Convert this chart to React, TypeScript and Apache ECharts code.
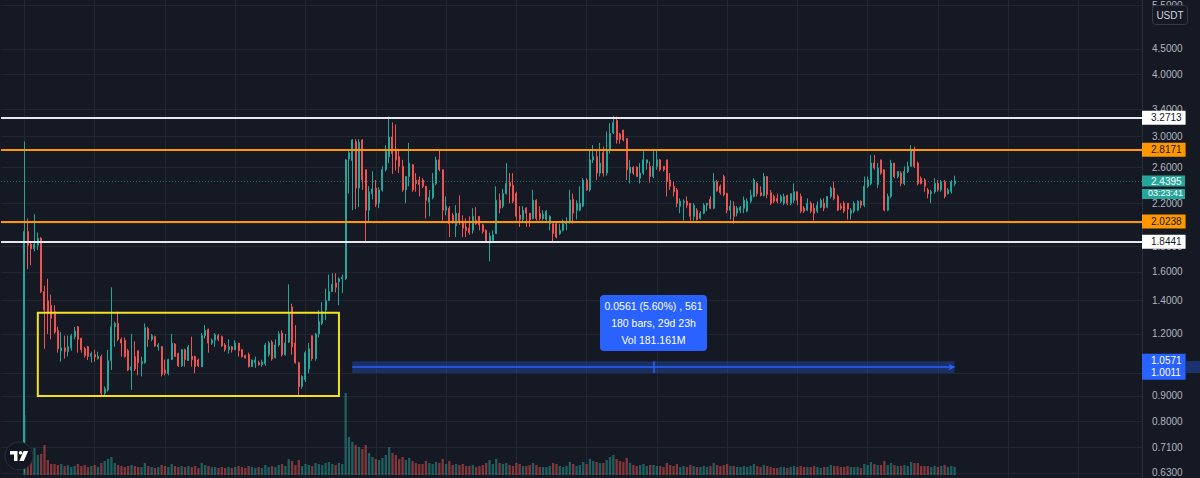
import React, { useEffect, useRef } from "react";
import * as echarts from "echarts";

// ---- data (4h candles) ----
// each entry: [open, close, low, high]
const ohlc: [number, number, number, number][] = [
  [0.640, 1.930, 0.630, 2.930], [1.930, 1.810, 1.620, 2.050], [1.820, 1.780, 1.650, 1.830], [1.780, 1.820, 1.760, 2.090],
  [1.810, 1.870, 1.770, 1.920], [1.870, 1.460, 1.450, 1.880], [1.460, 1.340, 1.120, 1.500], [1.400, 1.320, 1.200, 1.550],
  [1.370, 1.290, 1.170, 1.440], [1.330, 1.210, 1.200, 1.370], [1.220, 1.120, 1.100, 1.240], [1.110, 1.125, 1.055, 1.210],
  [1.125, 1.105, 1.070, 1.190], [1.105, 1.130, 1.080, 1.190], [1.125, 1.190, 1.110, 1.200], [1.185, 1.215, 1.170, 1.240],
  [1.240, 1.170, 1.100, 1.245], [1.175, 1.115, 1.100, 1.180], [1.120, 1.085, 1.075, 1.130], [1.130, 1.080, 1.063, 1.135],
  [1.080, 1.095, 1.050, 1.105], [1.090, 1.078, 1.055, 1.115], [1.070, 1.082, 1.065, 1.105], [1.080, 0.911, 0.904, 1.090],
  [0.911, 0.930, 0.904, 0.940], [0.925, 1.060, 0.918, 1.114], [1.060, 1.240, 1.015, 1.489], [1.240, 1.260, 1.130, 1.270],
  [1.260, 1.170, 1.160, 1.330], [1.170, 1.150, 1.080, 1.180], [1.165, 1.080, 1.075, 1.180], [1.110, 1.015, 1.010, 1.120],
  [1.015, 1.030, 0.925, 1.200], [1.080, 1.020, 1.010, 1.160], [1.110, 1.050, 0.990, 1.110], [1.045, 1.055, 0.985, 1.080],
  [1.050, 1.235, 1.045, 1.260], [1.230, 1.170, 1.130, 1.240], [1.170, 1.190, 1.160, 1.200], [1.185, 1.135, 1.130, 1.190],
  [1.130, 1.140, 1.110, 1.150], [1.130, 0.995, 0.985, 1.135], [1.015, 1.000, 0.990, 1.065], [0.999, 1.065, 0.990, 1.070],
  [1.065, 1.150, 1.063, 1.200], [1.145, 1.080, 1.080, 1.150], [1.095, 1.035, 1.030, 1.100], [1.035, 1.115, 1.030, 1.120],
  [1.115, 1.065, 1.031, 1.120], [1.060, 1.130, 1.060, 1.140], [1.080, 1.065, 1.031, 1.185], [1.080, 1.031, 1.000, 1.085],
  [1.063, 1.035, 1.030, 1.070], [1.030, 1.190, 1.030, 1.205], [1.190, 1.220, 1.175, 1.250], [1.225, 1.150, 1.100, 1.230],
  [1.150, 1.165, 1.140, 1.175], [1.165, 1.195, 1.130, 1.205], [1.190, 1.170, 1.160, 1.200], [1.185, 1.135, 1.130, 1.190],
  [1.140, 1.115, 1.105, 1.150], [1.115, 1.130, 1.095, 1.170], [1.130, 1.115, 1.100, 1.135], [1.115, 1.150, 1.113, 1.165],
  [1.150, 1.110, 1.080, 1.150], [1.115, 1.080, 1.075, 1.120], [1.085, 1.073, 1.070, 1.090], [1.090, 1.031, 1.027, 1.100],
  [1.031, 1.063, 1.030, 1.065], [1.050, 1.063, 1.025, 1.080], [1.050, 1.040, 1.035, 1.060], [1.040, 1.053, 1.030, 1.065],
  [1.045, 1.140, 1.035, 1.150], [1.090, 1.150, 1.080, 1.160], [1.155, 1.068, 1.060, 1.165], [1.075, 1.140, 1.070, 1.170],
  [1.140, 1.200, 1.130, 1.215], [1.205, 1.090, 1.080, 1.220], [1.090, 1.150, 1.085, 1.200], [1.155, 1.320, 1.150, 1.510],
  [1.360, 1.130, 1.090, 1.380], [1.150, 1.050, 1.045, 1.250], [1.050, 0.940, 0.900, 1.055], [0.940, 0.985, 0.930, 0.990],
  [0.970, 1.100, 0.960, 1.110], [1.020, 1.120, 1.000, 1.150], [1.190, 1.070, 1.060, 1.190], [1.070, 1.200, 1.060, 1.205],
  [1.200, 1.270, 1.180, 1.340], [1.260, 1.330, 1.250, 1.390], [1.340, 1.400, 1.280, 1.480], [1.400, 1.460, 1.400, 1.580],
  [1.460, 1.510, 1.460, 1.590], [1.520, 1.490, 1.455, 1.590], [1.530, 1.550, 1.370, 1.560], [1.550, 1.560, 1.450, 1.580],
  [1.550, 2.690, 1.540, 2.700], [2.700, 2.780, 2.300, 2.800], [2.680, 2.950, 2.130, 2.960], [2.930, 2.360, 2.140, 2.960],
  [2.360, 2.920, 2.160, 2.960], [2.950, 2.450, 2.340, 2.960], [2.570, 2.130, 1.830, 2.570], [2.130, 2.320, 2.010, 2.380],
  [2.300, 2.350, 2.240, 2.550], [2.360, 2.190, 2.160, 2.450], [2.200, 2.340, 2.150, 2.370], [2.340, 2.570, 2.320, 2.610],
  [2.570, 2.800, 2.550, 2.880], [2.730, 2.990, 2.650, 3.290], [2.990, 2.770, 2.520, 3.200], [2.830, 2.690, 2.560, 3.170],
  [2.730, 2.610, 2.530, 2.820], [2.610, 2.340, 2.320, 2.690], [2.340, 2.490, 2.200, 2.490], [2.490, 2.650, 2.380, 2.910],
  [2.630, 2.340, 2.320, 2.640], [2.450, 2.410, 2.320, 2.530], [2.450, 2.400, 2.270, 2.490], [2.450, 2.380, 2.360, 2.470],
  [2.380, 2.230, 2.050, 2.380], [2.210, 2.260, 2.070, 2.340], [2.260, 2.410, 2.240, 2.530], [2.410, 2.690, 2.390, 2.730],
  [2.690, 2.570, 2.550, 2.820], [2.570, 2.130, 2.030, 2.570], [2.130, 2.170, 2.080, 2.270], [2.150, 2.000, 1.880, 2.170],
  [2.080, 2.020, 2.000, 2.100], [1.980, 2.100, 1.880, 2.180], [2.100, 2.020, 1.990, 2.280], [2.020, 1.960, 1.880, 2.080],
  [1.970, 1.940, 1.880, 2.050], [1.960, 1.920, 1.900, 2.070], [1.940, 2.070, 1.910, 2.150], [2.030, 2.000, 1.990, 2.160],
  [2.070, 1.990, 1.940, 2.070], [1.990, 1.930, 1.910, 2.000], [1.940, 1.840, 1.830, 1.950], [1.830, 1.890, 1.680, 1.920],
  [1.850, 1.900, 1.830, 1.940], [1.910, 2.230, 1.910, 2.380], [2.230, 2.150, 2.100, 2.300], [2.170, 2.300, 2.150, 2.350],
  [2.300, 2.410, 2.290, 2.650], [2.420, 2.380, 2.200, 2.530], [2.390, 2.220, 2.200, 2.530], [2.300, 2.070, 2.030, 2.320],
  [2.080, 2.040, 1.970, 2.170], [2.040, 2.130, 2.020, 2.170], [2.150, 2.100, 1.970, 2.160], [2.100, 2.040, 1.970, 2.100],
  [2.050, 2.230, 2.040, 2.340], [2.230, 2.050, 2.030, 2.240], [2.100, 2.050, 2.030, 2.170], [2.050, 2.090, 2.030, 2.130],
  [2.040, 2.120, 2.020, 2.130], [2.000, 2.070, 1.940, 2.080], [2.000, 1.910, 1.830, 2.000], [2.000, 1.880, 1.870, 2.010],
  [1.910, 1.940, 1.900, 2.000], [1.940, 2.000, 1.930, 2.040], [2.000, 2.020, 1.940, 2.060], [2.020, 2.230, 2.000, 2.340],
  [2.240, 2.100, 2.000, 2.300], [2.130, 2.200, 2.040, 2.230], [2.130, 2.200, 2.120, 2.380], [2.170, 2.450, 2.160, 2.470],
  [2.450, 2.340, 2.330, 2.470], [2.340, 2.690, 2.320, 2.820], [2.690, 2.730, 2.650, 2.880], [2.730, 2.530, 2.450, 2.820],
  [2.530, 2.650, 2.490, 2.910], [2.780, 2.530, 2.490, 2.860], [2.530, 2.820, 2.500, 3.070], [2.820, 3.040, 2.770, 3.190],
  [3.050, 3.200, 3.030, 3.300], [3.230, 2.950, 2.900, 3.290], [3.030, 2.960, 2.900, 3.050], [3.090, 2.950, 2.930, 3.090],
  [2.970, 2.570, 2.450, 2.970], [2.530, 2.600, 2.410, 2.690], [2.600, 2.530, 2.510, 2.610], [2.600, 2.490, 2.490, 2.610],
  [2.470, 2.530, 2.410, 2.650], [2.530, 2.690, 2.510, 2.800], [2.650, 2.690, 2.570, 2.690], [2.610, 2.490, 2.420, 2.670],
  [2.490, 2.610, 2.470, 2.800], [2.610, 2.690, 2.570, 2.820], [2.690, 2.570, 2.550, 2.700], [2.610, 2.570, 2.550, 2.610],
  [2.690, 2.430, 2.270, 2.690], [2.450, 2.380, 2.340, 2.530], [2.380, 2.320, 2.270, 2.430], [2.340, 2.200, 2.160, 2.360],
  [2.170, 2.220, 2.100, 2.250], [2.210, 2.220, 2.030, 2.240], [2.220, 2.180, 2.150, 2.270], [2.200, 2.070, 2.030, 2.200],
  [2.070, 2.180, 2.030, 2.200], [2.130, 2.040, 2.030, 2.150], [2.050, 2.100, 2.040, 2.120], [2.100, 2.180, 2.090, 2.200],
  [2.180, 2.200, 2.120, 2.200], [2.240, 2.150, 2.140, 2.270], [2.150, 2.430, 2.140, 2.530], [2.430, 2.330, 2.320, 2.450],
  [2.380, 2.310, 2.290, 2.400], [2.490, 2.290, 2.270, 2.510], [2.300, 2.130, 2.100, 2.310], [2.130, 2.170, 2.040, 2.230],
  [2.170, 2.070, 2.000, 2.220], [2.100, 2.150, 2.070, 2.170], [2.130, 2.160, 2.100, 2.170], [2.150, 2.230, 2.100, 2.270],
  [2.120, 2.220, 2.110, 2.250], [2.220, 2.280, 2.200, 2.340], [2.270, 2.450, 2.260, 2.470], [2.410, 2.300, 2.270, 2.430],
  [2.310, 2.280, 2.270, 2.380], [2.280, 2.490, 2.270, 2.530], [2.490, 2.290, 2.250, 2.490], [2.310, 2.200, 2.180, 2.340],
  [2.270, 2.220, 2.200, 2.290], [2.250, 2.220, 2.200, 2.300], [2.220, 2.270, 2.200, 2.290], [2.200, 2.270, 2.180, 2.300],
  [2.280, 2.200, 2.180, 2.290], [2.200, 2.300, 2.180, 2.300], [2.230, 2.320, 2.200, 2.410], [2.320, 2.230, 2.180, 2.320],
  [2.270, 2.120, 2.100, 2.300], [2.150, 2.120, 2.100, 2.170], [2.130, 2.200, 2.120, 2.250], [2.200, 2.120, 2.100, 2.220],
  [2.150, 2.100, 2.030, 2.200], [2.120, 2.180, 2.100, 2.220], [2.160, 2.230, 2.150, 2.250], [2.200, 2.150, 2.120, 2.250],
  [2.160, 2.270, 2.150, 2.270], [2.270, 2.360, 2.250, 2.380], [2.360, 2.250, 2.230, 2.430], [2.270, 2.130, 2.120, 2.290],
  [2.170, 2.150, 2.130, 2.200], [2.200, 2.120, 2.100, 2.220], [2.200, 2.140, 2.040, 2.200], [2.100, 2.130, 2.040, 2.150],
  [2.120, 2.200, 2.100, 2.220], [2.130, 2.220, 2.120, 2.230], [2.220, 2.180, 2.150, 2.230], [2.180, 2.380, 2.160, 2.490],
  [2.380, 2.450, 2.360, 2.490], [2.410, 2.650, 2.390, 2.750], [2.650, 2.590, 2.570, 2.750], [2.400, 2.590, 2.360, 2.650],
  [2.690, 2.530, 2.510, 2.690], [2.570, 2.130, 2.120, 2.570], [2.130, 2.270, 2.120, 2.300], [2.270, 2.650, 2.250, 2.690],
  [2.650, 2.490, 2.470, 2.650], [2.490, 2.550, 2.470, 2.550], [2.530, 2.410, 2.380, 2.550], [2.410, 2.550, 2.390, 2.610],
  [2.550, 2.610, 2.530, 2.670], [2.610, 2.820, 2.610, 2.880], [2.820, 2.610, 2.590, 2.860], [2.650, 2.410, 2.390, 2.670],
  [2.470, 2.410, 2.400, 2.490], [2.450, 2.380, 2.320, 2.470], [2.340, 2.300, 2.250, 2.360], [2.300, 2.320, 2.200, 2.340],
  [2.320, 2.410, 2.300, 2.470], [2.410, 2.340, 2.320, 2.450], [2.340, 2.430, 2.320, 2.450], [2.430, 2.270, 2.250, 2.450],
  [2.300, 2.340, 2.290, 2.360], [2.320, 2.430, 2.300, 2.450], [2.410, 2.4395, 2.380, 2.500],
];

// volume per candle (millions)
const volumes: number[] = [
  60, 15, 18, 27, 20, 21, 30, 15, 11, 11,
  10, 11, 9, 10, 8, 9, 11, 9, 10, 8,
  9, 10, 8, 12, 14, 16, 18, 12, 10, 9,
  8, 9, 10, 9, 8, 8, 12, 9, 8, 7,
  8, 10, 9, 8, 11, 9, 8, 9, 8, 9,
  8, 9, 7, 12, 10, 9, 8, 8, 7, 8,
  7, 8, 7, 8, 9, 8, 7, 9, 8, 7,
  8, 7, 10, 8, 9, 8, 10, 11, 9, 16,
  14, 10, 15, 9, 11, 10, 9, 12, 11, 10,
  12, 13, 11, 10, 12, 11, 82, 38, 33, 30,
  28, 26, 30, 22, 18, 16, 15, 17, 20, 28,
  22, 20, 16, 18, 15, 17, 14, 12, 11, 11,
  14, 12, 11, 13, 12, 16, 11, 14, 10, 11,
  10, 11, 9, 9, 10, 8, 9, 10, 12, 15,
  11, 16, 12, 11, 12, 10, 9, 12, 11, 9,
  9, 10, 12, 10, 8, 8, 8, 9, 12, 11,
  9, 8, 9, 13, 11, 9, 10, 13, 11, 16,
  14, 13, 12, 12, 15, 18, 20, 16, 14, 13,
  17, 12, 10, 9, 10, 11, 9, 10, 10, 9,
  9, 8, 12, 10, 9, 11, 8, 9, 8, 10,
  9, 8, 8, 9, 8, 9, 12, 10, 9, 10,
  11, 9, 9, 8, 8, 9, 8, 9, 11, 9,
  8, 10, 9, 8, 7, 7, 8, 8, 7, 8,
  9, 8, 9, 8, 8, 8, 9, 8, 7, 8,
  8, 10, 9, 9, 8, 8, 9, 8, 8, 8,
  7, 11, 10, 13, 11, 10, 10, 14, 10, 12,
  10, 9, 9, 10, 9, 13, 12, 12, 9, 9,
  9, 8, 9, 8, 9, 10, 8, 9, 8,
];

// price-axis ticks that carry a visible label, and grid-only ticks hidden behind labels
const priceTicks: number[] = [5.5, 4.5, 4.0, 3.4, 3.0, 2.6, 2.2, 1.8, 1.6, 1.4, 1.2, 0.9, 0.8, 0.71, 0.63];
const hiddenTicks: number[] = [2.0, 1.0];
const whiteLevels: number[] = [3.2713, 1.8441];
const orangeLevels: number[] = [2.8171, 2.0238];
const lastPrice = 2.4395;
const countdown = "03:23:41";
const rangeBox = { top: 1.323, bottom: 0.9, fromBar: 4, toBar: 94 };
const measure = { high: 1.0571, low: 1.0011, fromBar: 98, toBar: 278 };
const measureText = ["0.0561 (5.60%) , 561", "180 bars, 29d 23h", "Vol 181.161M"];

const LEAD = 7; // empty bars before the first candle
const TOTAL_BARS = 342; // includes empty right margin
const categories: string[] = [];
{
  const start = Date.UTC(2023, 2, 1, 0);
  for (let i = 0; i < TOTAL_BARS; i++) {
    const d = new Date(start + (i - LEAD) * 4 * 3600 * 1000);
    categories.push(d.toISOString().slice(0, 13) + ":00");
  }
}

const BG = "#151924";
const GRID = "#222632";
const UP = "#26a69a";
const DOWN = "#ef5350";
const ORANGE = "#ff9800";
const WHITE = "#e6e8ee";
const BLUE = "#2962ff";
const YELLOW = "#f4e21c";
const FONT = "'Liberation Sans', Arial, sans-serif";

export default function App() {
  const ref = useRef<HTMLDivElement>(null);
  useEffect(() => {
    if (!ref.current) return;
    const chart = echarts.init(ref.current, undefined, { renderer: "svg" });

    const candleData = ohlc.map((c, k) => [k + LEAD, c[0], c[1], c[2], c[3]]);
    const volData = volumes.map((v, k) => ({
      value: [k + LEAD, v],
      itemStyle: { color: ohlc[k][1] >= ohlc[k][0] ? "rgba(38,166,154,0.5)" : "rgba(239,83,80,0.5)" },
    }));

    const boxLabel = (v: number, bg: string, fg: string) => ({
      show: true,
      position: "end",
      distance: 0,
      backgroundColor: bg,
      color: fg,
      fontSize: 10,
      lineHeight: 12,
      padding: [1, 4, 1, 9],
      fontFamily: FONT,
      formatter: () => v.toFixed(4),
    });

    const mid = Math.sqrt(measure.high * measure.low);
    const midBar = Math.round((measure.fromBar + measure.toBar) / 2);
    const blueLine = { color: BLUE, width: 1.5, type: "solid" };

    const option: any = {
      animation: false,
      backgroundColor: BG,
      textStyle: { fontFamily: FONT },
      grid: [
        { left: 1, right: 58, top: 0, bottom: 0 },
        { left: 1, right: 58, bottom: 3, height: 100 },
      ],
      xAxis: [
        {
          type: "category",
          gridIndex: 0,
          data: categories,
          boundaryGap: false,
          axisLine: { show: false },
          axisTick: { show: false },
          axisLabel: { show: false },
          splitLine: {
            show: true,
            interval: (i: number) => i >= LEAD && (i - LEAD) % 21 === 0,
            lineStyle: { color: GRID, width: 1 },
          },
        },
        {
          type: "category",
          gridIndex: 1,
          data: categories,
          boundaryGap: false,
          show: false,
        },
      ],
      yAxis: [
        {
          type: "log",
          gridIndex: 0,
          logBase: 10,
          min: 0.615,
          max: 5.646,
          position: "right",
          axisLine: { show: true, lineStyle: { color: "#2a2e39" } },
          axisTick: { show: false },
          axisLabel: { show: false },
          splitLine: { show: false },
        },
        {
          type: "value",
          gridIndex: 1,
          min: 0,
          max: 100,
          show: false,
          splitLine: { show: false },
        },
      ],
      series: [
        {
          type: "bar",
          name: "Volume",
          xAxisIndex: 1,
          yAxisIndex: 1,
          data: volData,
          barWidth: 2.3,
          silent: true,
          z: 1,
        },
        {
          type: "line",
          name: "ticks",
          xAxisIndex: 0,
          yAxisIndex: 0,
          data: [],
          silent: true,
          z: 1,
          markLine: {
            silent: true,
            z: 1,
            symbol: ["none", "none"],
            animation: false,
            data: [
              ...priceTicks.map((v) => ({
                yAxis: v,
                lineStyle: { color: GRID, width: 1, type: "solid" },
                label: {
                  show: true,
                  position: "end",
                  distance: 10,
                  color: "#b2b5be",
                  fontSize: 10,
                  fontFamily: FONT,
                  formatter: () => v.toFixed(4),
                },
              })),
              ...hiddenTicks.map((v) => ({
                yAxis: v,
                lineStyle: { color: GRID, width: 1, type: "solid" },
                label: { show: false },
              })),
            ],
          },
        },
        {
          type: "candlestick",
          name: "Price",
          xAxisIndex: 0,
          yAxisIndex: 0,
          data: candleData,
          encode: { x: 0, y: [1, 2, 3, 4] },
          barWidth: 1.5,
          z: 3,
          silent: true,
          itemStyle: { color: UP, color0: DOWN, borderColor: UP, borderColor0: DOWN, borderWidth: 1 },
          markArea: {
            silent: true,
            z: 4,
            data: [
              [
                {
                  xAxis: categories[rangeBox.fromBar + LEAD],
                  yAxis: rangeBox.top,
                  itemStyle: { color: "rgba(0,0,0,0)", borderColor: YELLOW, borderWidth: 2 },
                },
                { xAxis: categories[rangeBox.toBar + LEAD], yAxis: rangeBox.bottom },
              ],
              [
                {
                  xAxis: categories[measure.fromBar + LEAD],
                  yAxis: measure.high,
                  itemStyle: { color: "rgba(41,98,255,0.3)", borderWidth: 0 },
                },
                { xAxis: categories[measure.toBar + LEAD], yAxis: measure.low },
              ],
            ],
          },
          markLine: {
            silent: true,
            z: 6,
            symbol: ["none", "none"],
            animation: false,
            data: [
              {
                yAxis: lastPrice,
                lineStyle: { color: "rgba(38,166,154,0.55)", width: 1, type: [1, 2] },
                label: {
                  show: true,
                  position: "end",
                  distance: 0,
                  fontFamily: FONT,
                  formatter: () => `{e| }\n{p|${lastPrice.toFixed(4)}}\n{t|${countdown}}`,
                  rich: {
                    e: { lineHeight: 13, fontSize: 10 },
                    p: { backgroundColor: UP, color: "#ffffff", fontSize: 10, lineHeight: 13, width: 34, padding: [1, 0, 0, 9] },
                    t: { backgroundColor: UP, color: "#ffffff", fontSize: 9, lineHeight: 13, width: 37, padding: [0, 0, 1, 6] },
                  },
                },
              },
              ...orangeLevels.map((v) => ({
                yAxis: v,
                lineStyle: { color: ORANGE, width: 2, type: "solid" },
                label: boxLabel(v, ORANGE, "#131722"),
              })),
              ...whiteLevels.map((v) => ({
                yAxis: v,
                lineStyle: { color: WHITE, width: 2, type: "solid" },
                label: boxLabel(v, "#ffffff", "#131722"),
              })),
              [
                { coord: [categories[measure.fromBar + LEAD], mid], symbol: "none", lineStyle: blueLine, label: { show: false } },
                { coord: [categories[measure.toBar + LEAD], mid], symbol: "arrow", symbolSize: [5, 6] },
              ],
              [
                { coord: [categories[midBar + LEAD], measure.high], lineStyle: blueLine, label: { show: false } },
                { coord: [categories[midBar + LEAD], measure.low] },
              ],
              {
                yAxis: mid,
                lineStyle: { color: "rgba(0,0,0,0)", width: 0 },
                label: {
                  show: true,
                  position: "end",
                  distance: 0,
                  backgroundColor: BLUE,
                  color: "#ffffff",
                  fontSize: 10,
                  lineHeight: 12,
                  padding: [1, 4, 1, 9],
                  fontFamily: FONT,
                  formatter: () => `${measure.high.toFixed(4)}\n${measure.low.toFixed(4)}`,
                },
              },
            ],
          },
        },
      ],
      graphic: [
        {
          type: "rect",
          z: 50,
          shape: { x: 1186, y: 361, width: 14, height: 12 },
          style: { fill: "rgba(41,98,255,0.35)" },
        },
        {
          type: "rect",
          z: 50,
          shape: { x: 600, y: 295, width: 107, height: 56, r: 4 },
          style: { fill: BLUE },
        },
        ...measureText.map((t, i) => ({
          type: "text",
          z: 51,
          x: 653.5,
          y: 306 + i * 17,
          style: {
            text: t,
            fill: "#ffffff",
            fontSize: 10.5,
            fontFamily: FONT,
            textAlign: "center",
            textVerticalAlign: "middle",
          },
        })),
        {
          type: "rect",
          z: 50,
          shape: { x: 1152.5, y: 5.5, width: 35, height: 19, r: 3 },
          style: { fill: BG, stroke: "#363a45", lineWidth: 1 },
        },
        {
          type: "text",
          z: 51,
          x: 1170,
          y: 15,
          style: {
            text: "USDT",
            fill: "#d1d4dc",
            fontSize: 10,
            fontFamily: FONT,
            textAlign: "center",
            textVerticalAlign: "middle",
          },
        },
        {
          type: "circle",
          z: 50,
          shape: { cx: 19, cy: 456, r: 14 },
          style: { fill: "#131722", stroke: "#2a2e39", lineWidth: 1 },
        },
        {
          type: "polygon",
          z: 51,
          shape: { points: [[10, 451], [17.5, 451], [17.5, 461], [14, 461], [14, 454.5], [10, 454.5]] },
          style: { fill: "#ffffff" },
        },
        {
          type: "circle",
          z: 51,
          shape: { cx: 20.6, cy: 452.8, r: 1.8 },
          style: { fill: "#ffffff" },
        },
        {
          type: "polygon",
          z: 51,
          shape: { points: [[23.6, 451], [28.2, 451], [23.8, 461], [19.4, 461]] },
          style: { fill: "#ffffff" },
        },
      ],
    };

    chart.setOption(option);
    return () => chart.dispose();
  }, []);

  return (
    <div
      ref={ref}
      style={{ position: "fixed", left: 0, top: 0, width: 1200, height: 478, background: BG }}
    />
  );
}
